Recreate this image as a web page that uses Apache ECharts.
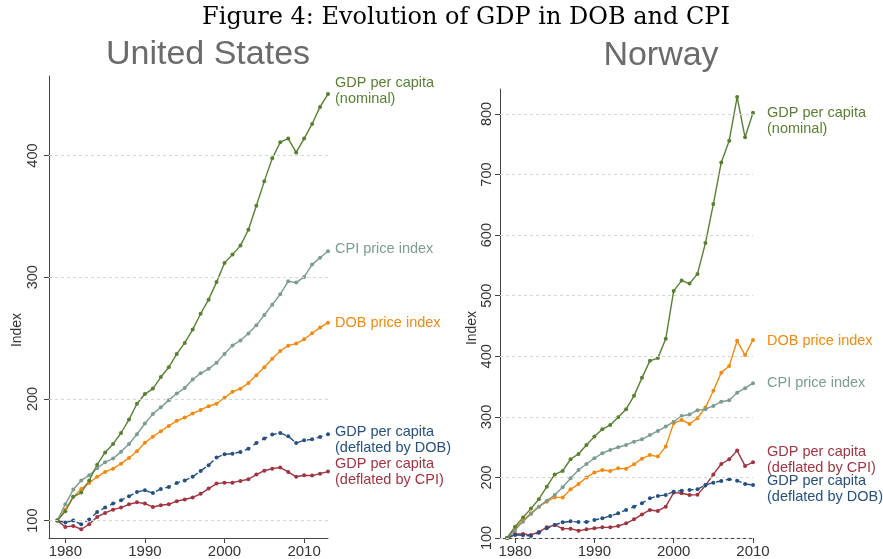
<!DOCTYPE html>
<html>
<head>
<meta charset="utf-8">
<script src="https://cdn.jsdelivr.net/npm/echarts@6/dist/echarts.min.js"></script>
<style>
  html, body { margin: 0; padding: 0; background: #fff; }
  #chart { width: 883px; height: 559px; }
</style>
</head>
<body>
<div id="chart"></div>
<script>
// years
const usYears = [1979, 1980, 1981, 1982, 1983, 1984, 1985, 1986, 1987, 1988, 1989, 1990, 1991, 1992, 1993, 1994, 1995, 1996,
  1997, 1998, 1999, 2000, 2001, 2002, 2003, 2004, 2005, 2006, 2007, 2008, 2009, 2010, 2011, 2012, 2013];
const noYears = [1979, 1980, 1981, 1982, 1983, 1984, 1985, 1986, 1987, 1988, 1989, 1990, 1991, 1992, 1993, 1994, 1995, 1996,
  1997, 1998, 1999, 2000, 2001, 2002, 2003, 2004, 2005, 2006, 2007, 2008, 2009, 2010];

// United States (index, 1979 = 100)
const usNominal = [100, 107.7, 119.5, 123, 133, 146, 156, 163, 172, 183, 196, 204, 208.5, 218, 226, 237, 246, 257, 270,
  281.6, 296, 311.8, 318.6, 326, 339, 358.7, 379, 397.7, 411, 414, 402.6, 414, 426, 440, 450.6];
const usCpi = [100, 113.4, 125.5, 133, 137.2, 143, 148, 151, 156.5, 163, 171, 179.8, 187.7, 193.2, 199, 204.4, 209, 216,
  221, 224.7, 229.7, 237, 244, 248, 253.7, 260.5, 269, 277.5, 286, 296.7, 295.6, 300.3, 310.4, 316, 321.4];
const usDob = [100, 109, 119.5, 126, 131, 136, 140, 142.7, 146.8, 151.5, 157, 164, 169, 173.4, 177.8, 182, 184.7, 188,
  191, 194, 196, 201, 205.8, 208.4, 213, 219.4, 226, 233, 239.4, 243.8, 245.5, 249, 254, 258.6, 262.7];
const usDeflDob = [100, 98.4, 100, 97, 101, 107, 110.7, 114, 116.7, 120, 123.6, 125, 122.7, 126, 127.7, 131, 133, 136,
  140.8, 145.5, 151.8, 154.5, 155, 156.4, 159, 163.8, 167.4, 170.7, 172, 169.3, 163.8, 166, 166.8, 168.8, 171];
const usDeflCpi = [100, 94.8, 95.6, 92.9, 97, 103, 106.3, 109, 110.7, 113.4, 115, 114, 111.2, 112.6, 113.4, 116, 117.3,
  119, 122, 126.3, 130.4, 131.2, 131.2, 132.6, 134, 137.8, 141, 142.7, 143.6, 140, 136, 137.3, 137, 138.6, 140.3];

// Norway (index, 1979 = 100)
const noNominal = [100, 118.7, 134, 148.5, 164, 184.8, 205, 210.7, 230, 238.8, 253.6, 267.4, 279.5, 286.7, 299.5, 312.7,
  334.7, 364.4, 392.5, 397, 428.9, 508, 525, 520, 536, 586.9, 651.3, 720, 756, 828, 761.5, 802];
const noCpi = [100, 113, 127, 139.6, 151.8, 161.7, 171, 183.7, 198.6, 212.3, 222.2, 231.6, 239.9, 245.4, 249.8, 253.6,
  259, 263, 270, 276.8, 284, 292, 301.5, 304, 311, 312.7, 318, 325, 327.5, 340, 347.4, 355.6];
const noDob = [100, 115.4, 129.7, 140.7, 151.8, 160, 167, 167, 180.4, 189, 200, 208, 212.3, 210.7, 215, 214.5, 221.7,
  231, 237, 234.4, 250.9, 289.4, 295, 288.3, 297.7, 315.4, 343, 373, 384, 425.6, 402, 427];
const noDeflCpi = [100, 106.6, 106.6, 105, 110, 117.6, 121.5, 115.4, 115.4, 112, 114.3, 116, 117.6, 117.6, 119.8, 124.2,
  130.8, 139, 146.3, 144.6, 151.8, 175, 173.8, 171, 171.6, 186.5, 205, 222.2, 230, 244.3, 219, 225];
const noDeflDob = [100, 105, 104.4, 103.3, 108.8, 116, 121.5, 125.9, 127.5, 126.4, 126.4, 129.7, 132.5, 136.3, 140.7,
  146.3, 151.8, 157.3, 165.5, 169.4, 171, 176.5, 178.2, 179.3, 180.4, 187.6, 191.4, 194.2, 197, 194.7, 189.2, 187.6];

// tick labels
const xTicks = [1980, 1990, 2000, 2010];
const usYTicks = [100, 200, 300, 400];
const noYTicks = [100, 200, 300, 400, 500, 600, 700, 800];

const FONT = 'Liberation Sans';
const C_NOM = '#5a7f34', C_CPI = '#7c9c90', C_DOB = '#ef8a12', C_BLUE = '#27507e', C_RED = '#9d3442';

function makeLine(idx, years, vals, color, label, dashed, offY, dist) {
  return {
    type: 'line',
    xAxisIndex: idx,
    yAxisIndex: idx,
    data: years.map((y, i) => [y, vals[i]]),
    symbol: 'circle',
    symbolSize: 4,
    itemStyle: {color: color},
    lineStyle: {color: color, width: 1.4, type: dashed ? [6, 4] : 'solid'},
    endLabel: {
      show: true,
      formatter: label,
      color: color,
      fontFamily: FONT,
      fontSize: 14.5,
      lineHeight: 16,
      distance: dist,
      offset: [0, offY]
    },
    silent: true
  };
}

function gridLines(idx, ticks) {
  // dashed horizontal grid (drawn from the tick values)
  return {
    type: 'line',
    xAxisIndex: idx,
    yAxisIndex: idx,
    data: [],
    silent: true,
    markLine: {
      silent: true,
      symbol: 'none',
      label: {show: false},
      lineStyle: {color: '#d6d6d6', width: 1, type: [3, 3]},
      data: ticks.map(v => ({yAxis: v}))
    }
  };
}

function xAxis(idx, min, max) {
  return {
    type: 'value',
    gridIndex: idx,
    min: min,
    max: max,
    axisLine: {show: true, onZero: false, lineStyle: {color: '#444', width: 1}},
    axisTick: {show: true, length: 5, customValues: xTicks, lineStyle: {color: '#444'}},
    axisLabel: {customValues: xTicks, formatter: v => String(v), color: '#333', fontFamily: FONT, fontSize: 15, margin: 6},
    splitLine: {show: false}
  };
}

function yAxis(idx, min, max, ticks, margin) {
  return {
    type: 'value',
    gridIndex: idx,
    min: min,
    max: max,
    axisLine: {show: true, onZero: false, lineStyle: {color: '#444', width: 1}},
    axisTick: {show: true, length: 5, customValues: ticks, lineStyle: {color: '#444'}},
    axisLabel: {customValues: ticks, rotate: 90, color: '#333', fontFamily: FONT, fontSize: 14.5, margin: margin},
    splitLine: {show: false}
  };
}

const chart = echarts.init(document.getElementById('chart'));
chart.setOption({
  animation: false,
  backgroundColor: '#fff',
  grid: [
    {left: 49, top: 76, width: 279, height: 462},
    {left: 500, top: 89, width: 253, height: 449}
  ],
  xAxis: [xAxis(0, 1977.95, 2013), xAxis(1, 1978.1, 2010)],
  yAxis: [yAxis(0, 85.7, 465.4, usYTicks, 9), yAxis(1, 100, 841.3, noYTicks, 6)],
  graphic: [
    {type: 'text', x: 466, y: 18, style: {text: 'Figure 4: Evolution of GDP in DOB and CPI', font: '24px "DejaVu Serif"', fill: '#000', align: 'center', verticalAlign: 'middle'}},
    {type: 'text', x: 208, y: 55, style: {text: 'United States', font: '34px "Liberation Sans"', fill: '#6b6b6b', align: 'center', verticalAlign: 'middle'}},
    {type: 'text', x: 661, y: 56, style: {text: 'Norway', font: '34px "Liberation Sans"', fill: '#6b6b6b', align: 'center', verticalAlign: 'middle'}},
    {type: 'text', x: 17, y: 330, rotation: Math.PI / 2, style: {text: 'Index', font: '14px "Liberation Sans"', fill: '#333', align: 'center', verticalAlign: 'middle'}},
    {type: 'text', x: 472, y: 328, rotation: Math.PI / 2, style: {text: 'Index', font: '14px "Liberation Sans"', fill: '#333', align: 'center', verticalAlign: 'middle'}}
  ],
  series: [
    gridLines(0, usYTicks),
    gridLines(1, noYTicks),
    makeLine(0, usYears, usDeflCpi, C_RED, 'GDP per capita\n(deflated by CPI)', false, 0, 7),
    makeLine(0, usYears, usDeflDob, C_BLUE, 'GDP per capita\n(deflated by DOB)', true, 6, 7),
    makeLine(0, usYears, usDob, C_DOB, 'DOB price index', false, 0, 7),
    makeLine(0, usYears, usCpi, C_CPI, 'CPI price index', false, -2, 7),
    makeLine(0, usYears, usNominal, C_NOM, 'GDP per capita\n(nominal)', false, -3, 7),
    makeLine(1, noYears, noDeflCpi, C_RED, 'GDP per capita\n(deflated by CPI)', false, -2, 14),
    makeLine(1, noYears, noDeflDob, C_BLUE, 'GDP per capita\n(deflated by DOB)', true, 4, 14),
    makeLine(1, noYears, noDob, C_DOB, 'DOB price index', false, 1, 14),
    makeLine(1, noYears, noCpi, C_CPI, 'CPI price index', false, 0, 14),
    makeLine(1, noYears, noNominal, C_NOM, 'GDP per capita\n(nominal)', false, 8, 14)
  ]
});
</script>
</body>
</html>
